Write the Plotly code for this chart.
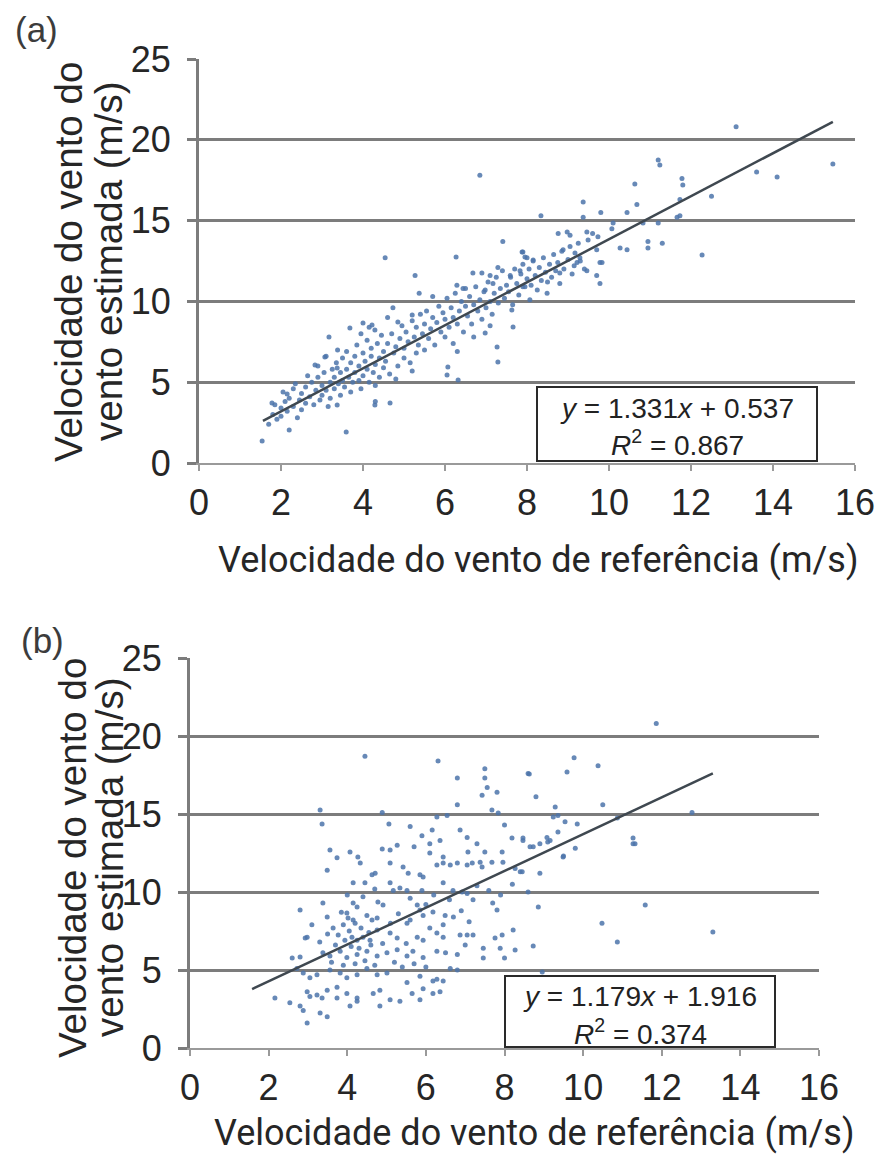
import plotly.graph_objects as go

# ---------------- data ----------------
# Panel (a): reference wind speed (x) vs estimated wind speed (y), m/s
a_x = [4.54, 6.27, 5.27, 5.37, 4.73, 3.68, 4.0, 4.22, 4.29, 4.85, 5.2, 3.17, 3.07, 2.83, 3.37, 2.15, 1.78, 1.54, 2.2, 3.59,
       4.29, 4.66, 3.37, 6.07, 6.05, 6.32, 7.27, 7.29, 6.98, 7.66, 7.63, 7.29, 6.68, 6.9, 7.1, 6.98, 7.17, 6.29, 6.44, 7.59,
       7.83, 7.95, 6.85, 7.41, 7.88, 8.0, 13.1, 15.46, 13.6, 14.1, 11.2, 11.24, 10.63, 11.78, 11.8, 12.5, 11.73, 9.37, 9.8, 10.68,
       10.44, 8.34, 9.37, 10.1, 10.07, 10.83, 11.66, 11.73, 11.2, 10.95, 10.95, 11.3, 12.27, 10.27, 10.44, 8.98, 9.05, 8.76, 9.46, 9.6,
       9.73, 8.88, 9.17, 9.29, 7.9, 8.15, 9.7, 9.83, 9.49, 9.78, 9.7, 9.78, 8.49, 9.46, 9.22, 8.8, 8.07, 7.9,
       1.7, 1.8, 1.9, 2.0, 2.0, 2.1, 2.15, 2.2, 2.3, 2.3, 2.4, 2.45, 2.5, 2.5, 1.85, 2.05, 2.35,
       2.6, 2.6, 2.7, 2.75, 2.8, 2.85, 2.9, 2.95, 3.0, 3.0, 3.05, 3.1, 3.15, 3.2, 3.2, 3.25, 3.3, 3.3, 3.35, 3.4, 3.45, 3.45,
       3.5, 3.5, 2.65, 2.9, 3.1, 3.38,
       3.55, 3.6, 3.6, 3.65, 3.7, 3.7, 3.75, 3.8, 3.8, 3.85, 3.9, 3.9, 3.95, 4.0, 4.0, 4.05, 4.1, 4.1, 4.15, 4.2, 4.2, 4.25,
       4.3, 4.3, 4.35, 4.4, 4.4, 4.45, 4.5, 4.5, 3.95, 4.15, 4.3,
       4.55, 4.6, 4.65, 4.7, 4.75, 4.8, 4.85, 4.9, 4.95, 5.0, 5.0, 5.05, 5.1, 5.15, 5.2, 5.25, 5.3, 5.3, 5.35, 5.4, 5.45, 5.5,
       5.5, 4.6, 5.2, 4.8,
       5.55, 5.6, 5.65, 5.7, 5.75, 5.8, 5.85, 5.9, 5.95, 6.0, 6.0, 6.05, 6.1, 6.15, 6.2, 6.2, 6.25, 6.3, 6.35, 6.4, 6.45, 6.5,
       6.5, 5.7, 6.3,
       6.55, 6.6, 6.65, 6.7, 6.75, 6.8, 6.85, 6.9, 6.95, 7.0, 7.05, 7.1, 7.15, 7.2, 7.25, 7.3, 7.35, 7.4, 7.45, 7.5, 6.7, 7.1,
       7.55, 7.6, 7.65, 7.7, 7.75, 7.8, 7.85, 7.9, 7.95, 8.0, 8.05, 8.1, 8.15, 8.2, 8.25, 8.3, 8.35, 8.4, 8.45, 8.5,
       8.55, 8.6, 8.65, 8.7, 8.75, 8.8, 8.85, 8.9, 9.0, 9.05, 9.1, 9.15, 9.25, 9.3, 9.4]
a_y = [12.7, 12.75, 11.6, 10.5, 9.6, 8.35, 8.66, 8.54, 8.23, 8.73, 9.16, 7.8, 6.56, 6.06, 5.88, 4.27, 3.71, 1.36, 2.04, 1.92,
       3.59, 3.71, 3.59, 5.94, 5.45, 5.14, 7.18, 6.25, 8.04, 8.42, 9.47, 12.1, 11.75, 11.75, 11.6, 10.7, 11.1, 11.0, 10.8, 11.6,
       11.9, 12.75, 17.8, 13.7, 13.05, 12.7, 20.8, 18.5, 18.0, 17.7, 18.75, 18.44, 17.26, 17.6, 17.2, 16.5, 16.3, 16.15, 15.5, 16.0,
       15.5, 15.3, 15.2, 14.85, 14.5, 14.85, 15.2, 15.3, 14.85, 13.7, 13.3, 13.6, 12.87, 13.3, 13.2, 14.3, 14.1, 14.2, 14.3, 14.2,
       14.0, 13.2, 13.0, 12.7, 13.05, 12.56, 13.2, 12.4, 13.8, 12.4, 11.6, 11.1, 10.5, 11.9, 12.4, 11.75, 10.1, 10.9,
       2.4, 3.0, 2.7, 3.4, 2.9, 3.8, 3.2, 4.0, 3.5, 4.6, 2.8, 3.9, 4.3, 3.3, 3.6, 4.4, 4.9,
       4.7, 3.7, 4.1, 5.0, 3.6, 4.5, 5.3, 3.9, 4.8, 4.2, 5.6, 4.5, 3.5, 5.0, 4.0, 5.8, 4.6, 5.3, 6.2, 4.9, 4.2, 5.6,
       6.5, 5.1, 5.4, 6.0, 6.6, 7.0,
       4.7, 5.8, 6.9, 5.3, 6.2, 4.4, 5.0, 6.6, 5.6, 7.3, 5.1, 6.0, 4.6, 6.8, 5.4, 6.3, 7.6, 5.8, 5.0, 6.6, 7.1, 5.6,
       6.1, 4.8, 7.4, 6.5, 5.3, 7.9, 6.9, 5.9, 8.0, 8.4, 3.8,
       6.3, 7.4, 5.5, 8.0, 6.8, 7.2, 6.0, 7.7, 8.5, 6.5, 7.1, 8.1, 7.5, 6.2, 8.8, 7.8, 6.8, 8.4, 7.3, 9.2, 8.0, 7.0,
       8.6, 9.0, 5.7, 5.2,
       9.4, 7.7, 8.3, 9.0, 7.3, 8.7, 9.7, 8.1, 9.3, 7.8, 8.9, 10.2, 8.4, 9.6, 7.4, 9.0, 10.5, 8.6, 9.4, 10.0, 8.1, 9.7,
       10.8, 10.3, 6.9,
       9.1, 10.3, 8.6, 9.8, 10.9, 9.4, 10.1, 8.9, 10.6, 9.6, 11.2, 10.0, 9.2, 10.5, 11.5, 9.9, 10.8, 11.9, 10.2, 11.0, 7.8, 8.5,
       10.6, 11.5, 9.8, 12.0, 11.1, 10.4, 11.7, 12.3, 10.9, 11.4, 12.0, 11.0, 12.5, 11.6, 10.7, 12.1, 11.3, 12.7, 11.8, 11.2,
       12.3, 11.5, 12.9, 11.9, 12.4, 11.1, 13.1, 12.0, 12.6, 13.4, 11.7, 12.2, 13.6, 12.5, 12.0]

# Panel (b)
b_x = [4.45, 6.31, 7.5, 7.5, 7.56, 6.8, 8.6, 7.43, 7.81, 3.31, 3.36, 4.89, 5.06, 6.8, 6.28, 6.54, 7.68, 7.84, 8.0, 6.16,
       6.87, 7.05, 7.3, 8.19, 8.47, 6.1, 6.36, 3.56, 4.07, 4.27, 4.89, 5.09, 5.27, 6.1, 6.44, 7.07, 7.5, 7.94,
       3.74, 4.33, 3.49, 5.09, 4.71, 4.63, 5.42, 5.55, 5.85, 5.93, 6.28, 6.44, 6.62, 6.8, 7.05, 7.18, 7.38, 7.43, 7.68, 7.96,
       8.27, 8.45, 4.15, 4.45, 5.09, 5.17, 5.34, 5.52, 6.44, 6.69, 6.92, 7.05, 7.2, 3.38, 3.49, 2.8, 4.15, 4.25, 3.99, 4.02,
       4.15, 4.63, 4.76, 4.78, 4.91, 5.78, 5.85, 5.93, 5.6, 5.52, 6.18, 6.49, 6.44, 7.81, 3.1, 2.98, 2.93, 3.64, 3.77, 3.94,
       4.12, 4.25, 4.4, 4.58, 4.76, 5.09, 5.27, 5.78, 5.93, 6.28, 6.44, 6.87, 7.05, 7.2, 7.76, 7.94, 8.22, 7.46, 7.89, 8.27,
       7.46, 8.0, 2.6, 2.8,
       3.38, 3.56, 3.82, 3.99, 4.25, 4.5, 4.76, 5.01, 5.27, 5.52, 5.67, 5.93, 6.28, 6.8,
       2.72, 2.88, 3.05, 3.23, 3.56, 3.82, 3.99, 4.25, 4.5, 4.76, 5.01, 5.85, 6.18, 6.44, 6.62, 6.8,
       2.98, 3.05, 3.23, 3.49, 3.74, 3.99, 4.25, 4.66, 4.83, 5.09, 5.52, 5.93, 6.28,
       2.16, 2.54, 2.8, 2.88, 3.36, 3.74, 4.07, 4.25, 4.83, 5.34, 5.65, 5.85, 6.18, 6.36,
       3.31, 3.49, 2.98,
       11.86, 9.77, 10.38, 9.59, 8.63, 8.8, 10.5, 9.29, 9.24, 9.36, 9.54, 9.85, 12.77, 10.87, 11.27, 11.32, 8.47, 8.73, 9.08, 9.1,
       9.36, 9.8, 9.5, 8.65, 8.9, 9.16, 9.49, 11.27, 8.4, 8.9, 8.86, 11.58, 10.48, 10.87, 13.3, 8.73, 8.96,
       3.9, 4.05, 4.2, 4.35, 4.5, 4.1, 4.3, 4.55, 3.7, 3.85, 4.6, 4.9, 5.1, 5.3, 4.0, 4.4, 4.7, 3.6, 3.9, 4.2,
       4.45, 4.7, 5.2, 5.4, 3.3, 3.5, 5.6, 5.9, 6.2, 6.0, 6.6, 6.7, 6.9, 7.1, 6.1, 5.5, 5.7, 6.0, 6.5, 7.0,
       7.3, 7.6, 7.9, 8.2, 8.6, 7.7, 5.6, 5.9, 5.7]
b_y = [18.7, 18.4, 17.9, 17.3, 16.7, 17.3, 17.6, 16.2, 16.4, 15.26, 14.36, 15.1, 14.36, 15.6, 14.8, 14.9, 15.26, 15.06, 14.3, 13.97,
       13.97, 13.5, 13.1, 13.46, 13.3, 13.1, 13.3, 12.7, 12.56, 12.24, 12.75, 12.7, 13.0, 12.5, 12.24, 12.56, 12.56, 12.56,
       12.2, 11.86, 11.4, 11.86, 11.2, 11.1, 11.6, 11.2, 11.1, 10.96, 11.73, 11.86, 11.73, 11.86, 11.73, 11.86, 11.9, 11.6, 11.9, 11.9,
       11.5, 11.3, 10.6, 10.6, 10.6, 10.1, 10.26, 10.1, 10.6, 10.1, 10.0, 9.9, 9.5, 9.3, 8.4, 8.85, 9.3, 9.04, 8.65, 8.33,
       8.2, 8.2, 8.33, 9.36, 9.17, 9.17, 8.85, 8.5, 8.2, 8.0, 8.72, 8.5, 7.9, 8.85, 7.9, 7.1, 7.05, 7.7, 7.24, 6.9,
       7.1, 6.9, 7.1, 6.9, 7.56, 7.37, 7.05, 7.1, 6.9, 7.37, 7.1, 7.24, 7.24, 7.24, 7.05, 7.24, 7.56, 6.4, 6.4, 6.28,
       5.77, 5.77, 5.77, 5.83,
       6.1, 5.9, 6.2, 5.8, 6.0, 6.2, 5.9, 6.1, 6.3, 5.9, 6.2, 5.8, 6.2, 6.0,
       5.1, 4.8, 4.5, 4.7, 5.0, 4.8, 4.5, 4.7, 5.1, 4.7, 4.8, 4.6, 4.3, 4.3, 5.1, 5.0,
       3.6, 3.3, 3.4, 3.7, 3.9, 3.5, 3.2, 3.5, 3.7, 3.1, 4.2, 3.8, 4.4,
       3.2, 2.9, 2.7, 2.4, 3.2, 3.2, 2.7, 3.0, 2.7, 3.0, 3.5, 3.1, 3.5, 3.6,
       2.24, 2.0, 1.6,
       20.8, 18.6, 18.1, 17.7, 17.56, 16.1, 15.6, 15.45, 14.8, 14.9, 14.5, 14.36, 15.1, 14.74, 13.46, 13.1, 13.46, 12.9, 13.5, 13.2,
       13.85, 12.8, 12.3, 12.9, 13.1, 13.3, 12.24, 13.1, 11.3, 11.2, 9.04, 9.17, 8.0, 6.8, 7.44, 6.54, 4.87,
       7.9, 7.5, 8.0, 7.7, 8.5, 6.5, 6.4, 7.4, 6.6, 8.7, 6.6, 6.7, 8.0, 8.6, 9.8, 9.7, 10.2, 5.5, 5.3, 5.4,
       5.6, 5.3, 5.5, 5.2, 6.8, 7.3, 9.6, 10.1, 9.8, 9.2, 9.5, 8.4, 8.8, 8.1, 7.7, 6.7, 5.4, 5.2, 6.1, 6.6,
       10.4, 10.1, 9.8, 10.5, 10.0, 9.3, 14.2, 13.6, 12.9]

# Linear fits shown in the boxes
fit_a = (1.331, 0.537, 0.867)
fit_b = (1.179, 1.916, 0.374)
fit_a_xrange = [1.56, 15.46]
fit_b_xrange = [1.58, 13.3]

x_ticks = [0, 2, 4, 6, 8, 10, 12, 14, 16]
y_ticks = [0, 5, 10, 15, 20, 25]
x_title = "Velocidade do vento de referência (m/s)"
y_title_lines = ["Velocidade do vento do", "vento estimada (m/s)"]

# ---------------- figure ----------------
W, H = 885, 1156


def px(x):
    return x / W


def py(y):
    return 1 - y / H


fig = go.Figure()

pt_color = "#4c74aa"
line_color = "#3f4850"

fig.add_trace(go.Scatter(x=a_x, y=a_y, mode="markers", xaxis="x", yaxis="y",
                         marker=dict(size=5, color=pt_color, opacity=0.85), showlegend=False))
fig.add_trace(go.Scatter(x=fit_a_xrange, y=[fit_a[0] * v + fit_a[1] for v in fit_a_xrange], mode="lines",
                         xaxis="x", yaxis="y", line=dict(color=line_color, width=2.5), showlegend=False))
fig.add_trace(go.Scatter(x=b_x, y=b_y, mode="markers", xaxis="x2", yaxis="y2",
                         marker=dict(size=5, color=pt_color, opacity=0.85), showlegend=False))
fig.add_trace(go.Scatter(x=fit_b_xrange, y=[fit_b[0] * v + fit_b[1] for v in fit_b_xrange], mode="lines",
                         xaxis="x2", yaxis="y2", line=dict(color=line_color, width=2.5), showlegend=False))

tick_font = dict(family="Liberation Sans, Arial, sans-serif", size=36, color="#262626")
grid_c = "#7c7c7c"


def xax(domain, anchor):
    return dict(domain=domain, anchor=anchor, range=[0, 16], tickvals=x_ticks, showgrid=False, zeroline=False,
                showline=True, linecolor="#9a9a9a", linewidth=2, ticks="outside", ticklen=6, tickwidth=2,
                tickcolor="#9a9a9a", tickfont=tick_font, ticklabelstandoff=1, fixedrange=True, automargin=False)


def yax(domain, anchor):
    return dict(domain=domain, anchor=anchor, range=[0, 25], tickvals=y_ticks, showgrid=True, gridcolor=grid_c,
                gridwidth=3, zeroline=False, showline=True, linecolor=grid_c, linewidth=3, ticks="outside",
                ticklen=9, tickwidth=3, tickcolor=grid_c, tickfont=tick_font, ticklabelstandoff=9, fixedrange=True,
                automargin=False)


fig.update_layout(
    width=W, height=H, margin=dict(l=0, r=0, t=0, b=0, autoexpand=False),
    paper_bgcolor="white", plot_bgcolor="white",
    xaxis=xax([px(199), px(855)], "y"),
    yaxis=yax([py(463), py(59)], "x"),
    xaxis2=xax([px(190), px(819)], "y2"),
    yaxis2=yax([py(1048), py(658)], "x2"),
)

annots = []
lab_font = dict(family="Liberation Sans, Arial, sans-serif", size=35, color="#3c3c3c")
annots.append(dict(text="(a)", x=px(13), y=py(30), xref="paper", yref="paper", xanchor="left", yanchor="middle",
                   showarrow=False, font=lab_font))
annots.append(dict(text="(b)", x=px(19), y=py(640), xref="paper", yref="paper", xanchor="left", yanchor="middle",
                   showarrow=False, font=lab_font))

ytf = dict(family="Liberation Sans, Arial, sans-serif", size=38.5, color="#262626")
xtf = dict(family="Roboto, Liberation Sans, sans-serif", size=36, color="#262626")
for (cx1, cx2, cy) in [(68, 108, 262), (72, 109, 858)]:
    annots.append(dict(text=y_title_lines[0], x=px(cx1), y=py(cy), xref="paper", yref="paper", textangle=-90,
                       xanchor="center", yanchor="middle", showarrow=False, font=ytf))
    annots.append(dict(text=y_title_lines[1], x=px(cx2), y=py(cy), xref="paper", yref="paper", textangle=-90,
                       xanchor="center", yanchor="middle", showarrow=False, font=ytf))
annots.append(dict(text=x_title, x=px(538), y=py(560), xref="paper", yref="paper", xanchor="center",
                   yanchor="middle", showarrow=False, font=xtf))
annots.append(dict(text=x_title, x=px(534), y=py(1133), xref="paper", yref="paper", xanchor="center",
                   yanchor="middle", showarrow=False, font=xtf))

box_font = dict(family="Liberation Sans, Arial, sans-serif", size=28, color="#222222")
shapes = []
for (x0, x1, y0, y1, fit, l1y, l2y) in [(537, 817, 387, 461, fit_a, 408, 443), (505, 775, 976, 1047, fit_b, 997, 1032)]:
    shapes.append(dict(type="rect", xref="paper", yref="paper", x0=px(x0), x1=px(x1), y0=py(y1), y1=py(y0),
                       line=dict(color="#2a2a2a", width=2), fillcolor="white", layer="above"))
    cx = (x0 + x1) / 2
    annots.append(dict(text=f"<i>y</i> = {fit[0]:.3f}<i>x</i> + {fit[1]:.3f}", x=px(cx), y=py(l1y), xref="paper",
                       yref="paper", xanchor="center", yanchor="middle", showarrow=False, font=box_font))
    annots.append(dict(text=f"<i>R</i><sup>2</sup> = {fit[2]:.3f}", x=px(cx), y=py(l2y), xref="paper",
                       yref="paper", xanchor="center", yanchor="middle", showarrow=False, font=box_font))

fig.update_layout(annotations=annots, shapes=shapes)
fig.write_html("out.html")
